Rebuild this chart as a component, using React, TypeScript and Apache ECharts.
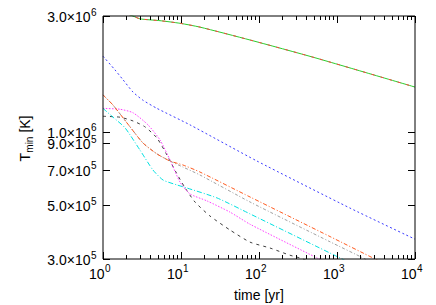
import React, { useEffect, useRef } from "react";
import * as echarts from "echarts";

// ---- data ----
const greenTime = [1, 1.5, 2.42, 2.98, 5.38, 9.7, 17.5, 76.7, 522, 10000];
const greenTemp = [3.4e6, 3.18e6, 3.0e6, 2.92e6, 2.87e6, 2.8e6, 2.7e6, 2.39e6, 2.02e6, 1.53e6];

const blueTime = [1, 1.425, 1.805, 2.42, 3.26, 4.92, 13.0, 94.2, 1468, 10000];
const blueTemp = [2.05e6, 1.8e6, 1.64e6, 1.46e6, 1.35e6, 1.25e6, 1.07e6, 7.59e5, 4.86e5, 3.62e5];

const orangeTime = [1, 1.344, 2.218, 3.26, 4.92, 7.23, 10.6, 17.5, 76.7, 815, 3070, 4125];
const orangeTemp = [1.42e6, 1.29e6, 1.05e6, 9.0e5, 8.12e5, 7.59e5, 7.31e5, 6.84e5, 5.4e5, 3.71e5, 3.0e5, 2.86e5];

const grayTime = [1, 1.344, 2.218, 3.26, 4.92, 7.23, 10.6, 17.5, 76.7, 815, 2286, 3070];
const grayTemp = [1.42e6, 1.29e6, 1.05e6, 9.0e5, 8.12e5, 7.59e5, 7.17e5, 6.65e5, 5.15e5, 3.53e5, 3.0e5, 2.83e5];

const cyanTime = [1, 1.344, 1.915, 2.98, 4.37, 5.89, 8.9, 11.9, 29, 76.7, 1093, 1468];
const cyanTemp = [1.25e6, 1.15e6, 1.04e6, 8.42e5, 6.97e5, 6.34e5, 6.05e5, 5.88e5, 5.35e5, 4.6e5, 3.03e5, 2.89e5];

const magentaTime = [1, 1.65, 2.42, 3.77, 5.38, 7.23, 9.7, 13.0, 21.6, 42.4, 76.7, 554, 745];
const magentaTemp = [1.25e6, 1.24e6, 1.2e6, 1.07e6, 9.27e5, 7.67e5, 6.22e5, 5.56e5, 5.2e5, 4.68e5, 4.17e5, 3.03e5, 2.89e5];

const blackTime = [1, 1.65, 2.42, 3.45, 4.92, 6.6, 8.6, 11.3, 15.1, 23.5, 42.4, 76.7, 138, 249, 334, 451];
const blackTemp = [1.16e6, 1.15e6, 1.11e6, 1.05e6, 9.44e5, 8.04e5, 6.84e5, 5.88e5, 5.15e5, 4.51e5, 3.95e5, 3.52e5, 3.33e5, 3.11e5, 3.03e5, 2.92e5];

const yTickValues = [3e5, 5e5, 7e5, 9e5, 1e6, 3e6];
const yTickMantissa = ["3.0", "5.0", "7.0", "9.0", "1.0", "3.0"];
const yTickExponent = ["5", "5", "5", "5", "6", "6"];
const xMajorValues = [1, 10, 100, 1000, 10000];
const xMajorExponent = ["0", "1", "2", "3", "4"];
const xMinorMultipliers = [2, 3, 4, 5, 6, 7, 8, 9];

const FONT = "Liberation Sans, Arial, Helvetica, sans-serif";

function pairs(t: number[], v: number[]) {
  return t.map((x, i) => [x, v[i]]);
}

export default function App() {
  const ref = useRef<HTMLDivElement>(null);
  useEffect(() => {
    const chart = echarts.init(ref.current!, null, { renderer: "svg" });
    const line = (name: string, data: number[][], color: string, type: any, smooth = 0.2, z = 2) => ({
      type: "line",
      name,
      data,
      symbol: "none",
      showSymbol: false,
      smooth,
      silent: true,
      z,
      lineStyle: { color, width: 1, type },
    });
    chart.setOption({
      animation: false,
      backgroundColor: "#ffffff",
      grid: {
        left: 103,
        top: 16,
        width: 312,
        height: 243,
        show: true,
        borderColor: "#000000",
        borderWidth: 1,
        backgroundColor: "transparent",
        z: 10,
      },
      xAxis: {
        type: "log",
        logBase: 10,
        min: 1,
        max: 10000,
        axisLine: { show: false },
        axisTick: { show: false },
        axisLabel: { show: false },
        splitLine: { show: false },
      },
      yAxis: {
        type: "log",
        logBase: 10,
        min: 3e5,
        max: 3e6,
        axisLine: { show: false },
        axisTick: { show: false },
        axisLabel: { show: false },
        splitLine: { show: false },
      },
      series: [
        line("green", pairs(greenTime, greenTemp), "#2ccc2c", "solid", 0.2, 3),
        line("red", pairs(greenTime, greenTemp), "#ff4040", [3, 6], 0.2, 4),
        line("blue", pairs(blueTime, blueTemp), "#3a3aff", [2, 2.5]),
        line("black", pairs(blackTime, blackTemp), "#3c3c3c", [3, 4]),
        line("magenta", pairs(magentaTime, magentaTemp), "#ff40ff", [1.5, 1.5]),
        line("cyan", pairs(cyanTime, cyanTemp), "#00e0e0", [5, 2, 1, 2]),
        line("gray", pairs(grayTime, grayTemp), "#a0a0a0", [3, 2, 1, 2]),
        line("orange", pairs(orangeTime, orangeTemp), "#ff5a1e", [4, 2, 1, 2], 0.2, 3),
      ],
    });

    const px = (v: number) => chart.convertToPixel({ xAxisIndex: 0 }, v) as number;
    const py = (v: number) => chart.convertToPixel({ yAxisIndex: 0 }, v) as number;
    const top = py(3e6);
    const bottom = py(3e5);
    const left = px(1);
    const right = px(10000);
    const els: any[] = [];
    const tick = (x1: number, y1: number, x2: number, y2: number) =>
      els.push({
        type: "line",
        silent: true,
        z: 20,
        shape: { x1, y1, x2, y2 },
        style: { stroke: "#000000", lineWidth: 1 },
      });
    const text = (x: number, y: number, t: string, size: number, align: string, extra: any = {}) =>
      els.push({
        type: "text",
        silent: true,
        z: 20,
        x,
        y,
        ...extra,
        style: {
          text: t,
          fontSize: size,
          fontFamily: FONT,
          fill: "#000000",
          align,
          textAlign: align,
          verticalAlign: "middle",
          textVerticalAlign: "middle",
        },
      });

    // x ticks
    xMajorValues.forEach((v, i) => {
      const x = Math.round(px(v)) + 0.5;
      tick(x, bottom, x, bottom - 7);
      tick(x, top, x, top + 7);
      text(Math.round(px(v)) + 1.5, bottom + 15, "10", 14, "right");
      text(Math.round(px(v)) + 2, bottom + 9.5, xMajorExponent[i], 10, "left");
    });
    for (let d = 0; d < xMajorValues.length - 1; d++) {
      xMinorMultipliers.forEach((m) => {
        const x = Math.round(px(m * xMajorValues[d])) + 0.5;
        tick(x, bottom, x, bottom - 4);
        tick(x, top, x, top + 4);
      });
    }
    // y ticks
    yTickValues.forEach((v, i) => {
      const y = Math.round(py(v)) + 0.5;
      tick(left, y, left + 7, y);
      tick(right, y, right - 7, y);
      text(90.5, py(v) + 1, yTickMantissa[i] + "×10", 14, "right");
      text(91, py(v) - 4, yTickExponent[i], 10, "left");
    });
    // axis titles
    text((left + right) / 2, bottom + 36, "time [yr]", 14, "center");
    els.push({
      type: "group",
      x: 25,
      y: (top + bottom) / 2,
      rotation: Math.PI / 2,
      silent: true,
      children: [
        { type: "text", x: -24, y: 0, style: { text: "T", fontSize: 14, fontFamily: FONT, fill: "#000", align: "left", textAlign: "left", verticalAlign: "middle", textVerticalAlign: "middle" } },
        { type: "text", x: -15.2, y: 4, style: { text: "min", fontSize: 10, fontFamily: FONT, fill: "#000", align: "left", textAlign: "left", verticalAlign: "middle", textVerticalAlign: "middle" } },
        { type: "text", x: 1, y: 0, style: { text: " [K]", fontSize: 14, fontFamily: FONT, fill: "#000", align: "left", textAlign: "left", verticalAlign: "middle", textVerticalAlign: "middle" } },
      ],
    });

    chart.setOption({ graphic: els });
    return () => chart.dispose();
  }, []);
  return <div ref={ref} style={{ position: "absolute", left: 0, top: 0, width: 436, height: 305 }} />;
}
